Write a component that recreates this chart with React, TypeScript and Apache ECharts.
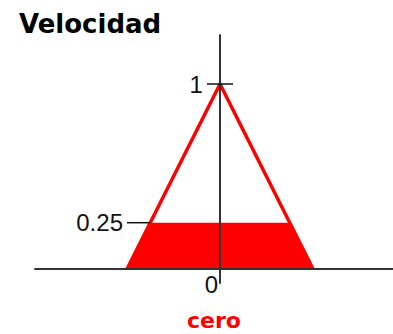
import React, { useEffect, useRef } from "react";
import * as echarts from "echarts";

// Triangular membership function "cero" for the variable Velocidad
const triangleX = [-1, 0, 1];
const triangleY = [0, 1, 0];

// Area activated up to the cut level 0.25 (trapezoid under the triangle)
const activatedX = [-1, -0.75, 0.75, 1];
const activatedY = [0, 0.25, 0.25, 0];

// Level marks on the vertical axis
const tickLevels = [1, 0.25];
const tickStarts = [-0.14, -1];
const tickEnds = [0.14, -0.75];
const tickLabels = ["1", "0.25"];
const originLabel = "0";

const titleText = "Velocidad";
const setName = "cero";

const RED = "#ff0000";
const AXIS = "#333333";
const LABEL_FONT = "'Liberation Sans', Arial, sans-serif";
const BOLD_FONT = "'DejaVu Sans', sans-serif";

export default function App() {
  const ref = useRef<HTMLDivElement>(null);

  useEffect(() => {
    if (!ref.current) return;
    const chart = echarts.init(ref.current, null, { renderer: "svg" });

    const tickData = tickLevels.map((lv, i) => [tickStarts[i], tickEnds[i], lv, i]);

    chart.setOption({
      animation: false,
      backgroundColor: "#ffffff",
      title: {
        text: titleText,
        left: 14,
        top: 6,
        textStyle: {
          fontFamily: BOLD_FONT,
          fontWeight: "bold",
          fontSize: 26,
          color: "#000000",
        },
      },
      grid: { left: 35, top: 35, width: 358, height: 248 },
      xAxis: {
        type: "value",
        min: -1.989,
        max: 1.86,
        z: 10,
        axisLine: { show: true, onZero: true, lineStyle: { color: AXIS, width: 2 } },
        axisTick: { show: false },
        axisLabel: { show: false },
        splitLine: { show: false },
      },
      yAxis: {
        type: "value",
        min: -0.076,
        max: 1.265,
        z: 10,
        axisLine: { show: true, onZero: true, lineStyle: { color: AXIS, width: 2 } },
        axisTick: { show: false },
        axisLabel: { show: false },
        splitLine: { show: false },
      },
      graphic: [
        {
          type: "text",
          x: 214,
          y: 320,
          style: {
            text: setName,
            fill: RED,
            font: `bold 22px ${BOLD_FONT}`,
            textAlign: "center",
            textVerticalAlign: "middle",
          },
        },
      ],
      series: [
        {
          type: "line",
          data: activatedX.map((x, i) => [x, activatedY[i]]),
          symbol: "none",
          lineStyle: { width: 0 },
          areaStyle: { color: RED, opacity: 1 },
          z: 2,
        },
        {
          type: "line",
          data: triangleX.map((x, i) => [x, triangleY[i]]),
          symbol: "none",
          lineStyle: { color: RED, width: 3.5 },
          z: 3,
        },
        {
          type: "custom",
          z: 20,
          data: tickData,
          renderItem: (params: any, api: any) => {
            const a = api.coord([api.value(0), api.value(2)]);
            const b = api.coord([api.value(1), api.value(2)]);
            const idx = api.value(3);
            return {
              type: "group",
              children: [
                {
                  type: "line",
                  shape: { x1: a[0], y1: a[1], x2: b[0], y2: b[1] },
                  style: { stroke: "#111111", lineWidth: 1.5 },
                },
                {
                  type: "text",
                  x: a[0] - 4,
                  y: a[1],
                  style: {
                    text: tickLabels[idx],
                    fill: "#111111",
                    font: `24px ${LABEL_FONT}`,
                    textAlign: "right",
                    textVerticalAlign: "middle",
                  },
                },
              ],
            };
          },
        },
        {
          type: "custom",
          z: 20,
          data: [[0, 0]],
          renderItem: (params: any, api: any) => {
            const p = api.coord([api.value(0), api.value(1)]);
            return {
              type: "text",
              x: p[0] - 2,
              y: p[1] + 4,
              style: {
                text: originLabel,
                fill: "#111111",
                font: `24px ${LABEL_FONT}`,
                textAlign: "right",
                textVerticalAlign: "top",
              },
            };
          },
        },
      ],
    });

    return () => chart.dispose();
  }, []);

  return <div ref={ref} style={{ width: 393, height: 334, position: "absolute", left: 0, top: 0 }} />;
}
